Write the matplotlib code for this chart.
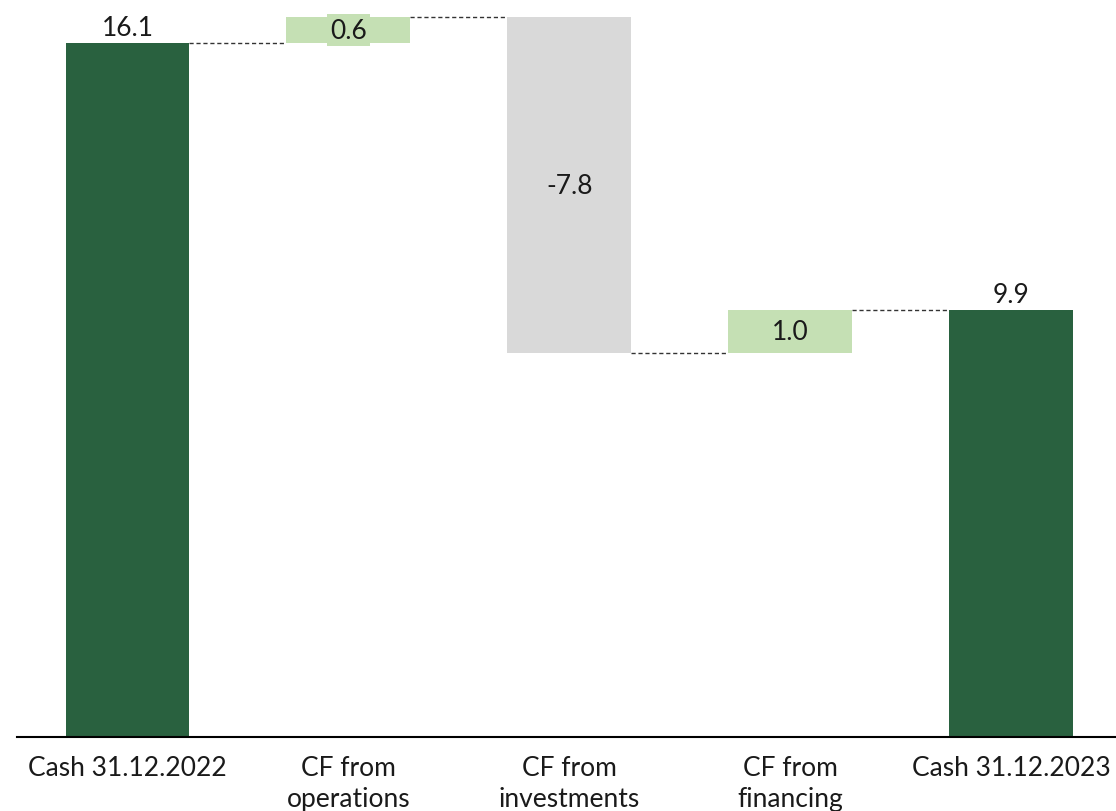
import matplotlib
matplotlib.use('Agg')
from matplotlib import pyplot as plt

categories = ['Cash 31.12.2022', 'CF from\noperations', 'CF from\ninvestments',
              'CF from\nfinancing', 'Cash 31.12.2023']
values = [16.1, 0.6, -7.8, 1.0, 9.9]
kinds = ['total', 'delta', 'delta', 'delta', 'total']

DARK_GREEN = '#29613f'
LIGHT_GREEN = '#c5e0b4'
GREY = '#d9d9d9'
FS = 19

plt.rcParams['font.family'] = ['Lato', 'DejaVu Sans']

fig = plt.figure(figsize=(11.16, 8.12), dpi=100)
ax = fig.add_axes([0.0152, 0.0911, 0.9897, 0.9089])

width = 0.56
running = 0.0
for i, (val, kind) in enumerate(zip(values, kinds)):
    if kind == 'total':
        bottom, height = 0.0, val
        color = DARK_GREEN
        running = val
    else:
        bottom = running if val >= 0 else running + val
        height = abs(val)
        color = LIGHT_GREEN if val >= 0 else GREY
        running += val
    ax.bar(i, height, bottom=bottom, width=width, color=color, zorder=2)

    label = f'{val:.1f}'
    if kind == 'total':
        ax.text(i, bottom + height + 0.08, label, ha='center', va='bottom',
                fontsize=FS, color='#1a1a1a')
    else:
        ax.text(i, bottom + height / 2, label, ha='center', va='center',
                fontsize=FS, color='#1a1a1a',
                bbox=dict(boxstyle='square,pad=0.12', fc=color, ec='none'))

# dashed connectors between consecutive bars at the running level
level = 0.0
for i, (val, kind) in enumerate(zip(values, kinds)):
    level = val if kind == 'total' else level + val
    if i < len(values) - 1:
        ax.plot([i + width / 2, i + 1 - width / 2], [level, level],
                ls=(0, (3, 2)), color='#333333', lw=1, zorder=1)

ax.set_xlim(-0.5, 4.5)
ax.set_ylim(0, 17.12)
ax.set_xticks(range(len(categories)))
ax.set_xticklabels(categories, fontsize=FS, color='#1a1a1a', linespacing=1.3)
ax.tick_params(axis='x', length=0, pad=13)
ax.set_yticks([])
for side in ['top', 'right', 'left']:
    ax.spines[side].set_visible(False)
ax.spines['bottom'].set_linewidth(1.5)
ax.spines['bottom'].set_color('black')

fig.savefig('out.png', dpi=100)
